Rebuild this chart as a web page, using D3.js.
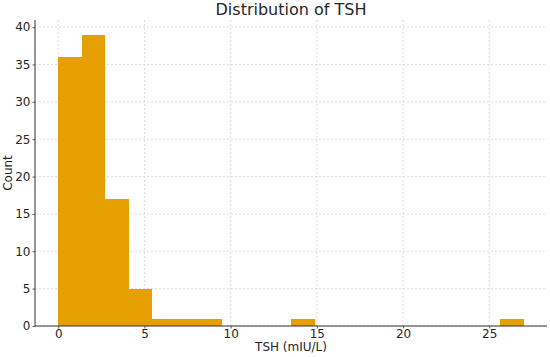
<!DOCTYPE html>
<html>
  <head>
    <script src="https://d3js.org/d3.v7.min.js"></script>
    <style>
      body { margin: 0; background: #fff; }
      text { font-family: "DejaVu Sans", sans-serif; fill: #262626; }
    </style>
  </head>
  <body>
    <svg id="canvas" width="550" height="357"></svg>
  </body>
  <script>
    // histogram of TSH values, 20 equal bins from 0 to 27
    const binStart = 0
    const binWidth = 1.35
    const counts = [36, 39, 17, 5, 1, 1, 1, 0, 0, 0, 1, 0, 0, 0, 0, 0, 0, 0, 0, 1]
    const xTicks = [0, 5, 10, 15, 20, 25]
    const yTicks = [0, 5, 10, 15, 20, 25, 30, 35, 40]

    const bins = counts.map((c, i) => ({
      x0: binStart + i * binWidth,
      x1: binStart + (i + 1) * binWidth,
      count: c
    }))

    const margin = { top: 20, right: 3, bottom: 31, left: 35 }
    const width = 550, height = 357
    const svg = d3.select('#canvas')

    const xMax = binStart + counts.length * binWidth
    const xPad = (xMax - binStart) * 0.05
    const x = d3.scaleLinear()
      .domain([binStart - xPad, xMax + xPad])
      .range([margin.left, width - margin.right])
    const yMax = d3.max(counts) * 1.05
    const y = d3.scaleLinear()
      .domain([0, yMax])
      .range([height - margin.bottom, margin.top])

    // grid
    const grid = svg.append('g')
    grid.selectAll('.gx').data(xTicks).enter().append('line')
      .attr('x1', d => x(d)).attr('x2', d => x(d))
      .attr('y1', margin.top).attr('y2', height - margin.bottom)
      .attr('stroke', '#d4d4d4').attr('stroke-width', 0.8)
      .attr('stroke-dasharray', '2,2')
    grid.selectAll('.gy').data(yTicks).enter().append('line')
      .attr('x1', margin.left).attr('x2', width - margin.right)
      .attr('y1', d => y(d)).attr('y2', d => y(d))
      .attr('stroke', '#d4d4d4').attr('stroke-width', 0.8)
      .attr('stroke-dasharray', '2,2')

    // bars
    svg.append('g').attr('shape-rendering', 'crispEdges')
      .selectAll('rect').data(bins.filter(b => b.count > 0)).enter()
      .append('rect')
        .attr('x', d => x(d.x0))
        .attr('width', d => x(d.x1) - x(d.x0) + 0.5)
        .attr('y', d => y(d.count))
        .attr('height', d => y(0) - y(d.count))
        .attr('fill', '#E69F00')

    // axes
    const xAxis = svg.append('g')
      .attr('transform', `translate(0,${height - margin.bottom})`)
      .call(d3.axisBottom(x).tickValues(xTicks).tickSize(2.5).tickPadding(1))
    const yAxis = svg.append('g')
      .attr('transform', `translate(${margin.left},0)`)
      .call(d3.axisLeft(y).tickValues(yTicks).tickSize(2.5).tickPadding(2))
    ;[xAxis, yAxis].forEach(a => {
      a.selectAll('text').style('font-size', '12px').attr('fill', '#262626')
      a.selectAll('line').attr('stroke', '#333').attr('stroke-width', 0.8)
      a.select('.domain').attr('stroke', '#333').attr('stroke-width', 1)
    })
    xAxis.select('.domain').attr('d', `M${margin.left},0H${width - margin.right}`)
    yAxis.select('.domain').attr('d', `M0,${height - margin.bottom}V${margin.top}`)

    // labels
    svg.append('text')
      .attr('x', (margin.left + width - margin.right) / 2)
      .attr('y', 15)
      .attr('text-anchor', 'middle')
      .style('font-size', '16px')
      .text('Distribution of TSH')
    svg.append('text')
      .attr('x', (margin.left + width - margin.right) / 2)
      .attr('y', 351)
      .attr('text-anchor', 'middle')
      .style('font-size', '12px')
      .text('TSH (mIU/L)')
    svg.append('text')
      .attr('transform', `translate(12,${(margin.top + height - margin.bottom) / 2}) rotate(-90)`)
      .attr('text-anchor', 'middle')
      .style('font-size', '12px')
      .text('Count')
  </script>
</html>
